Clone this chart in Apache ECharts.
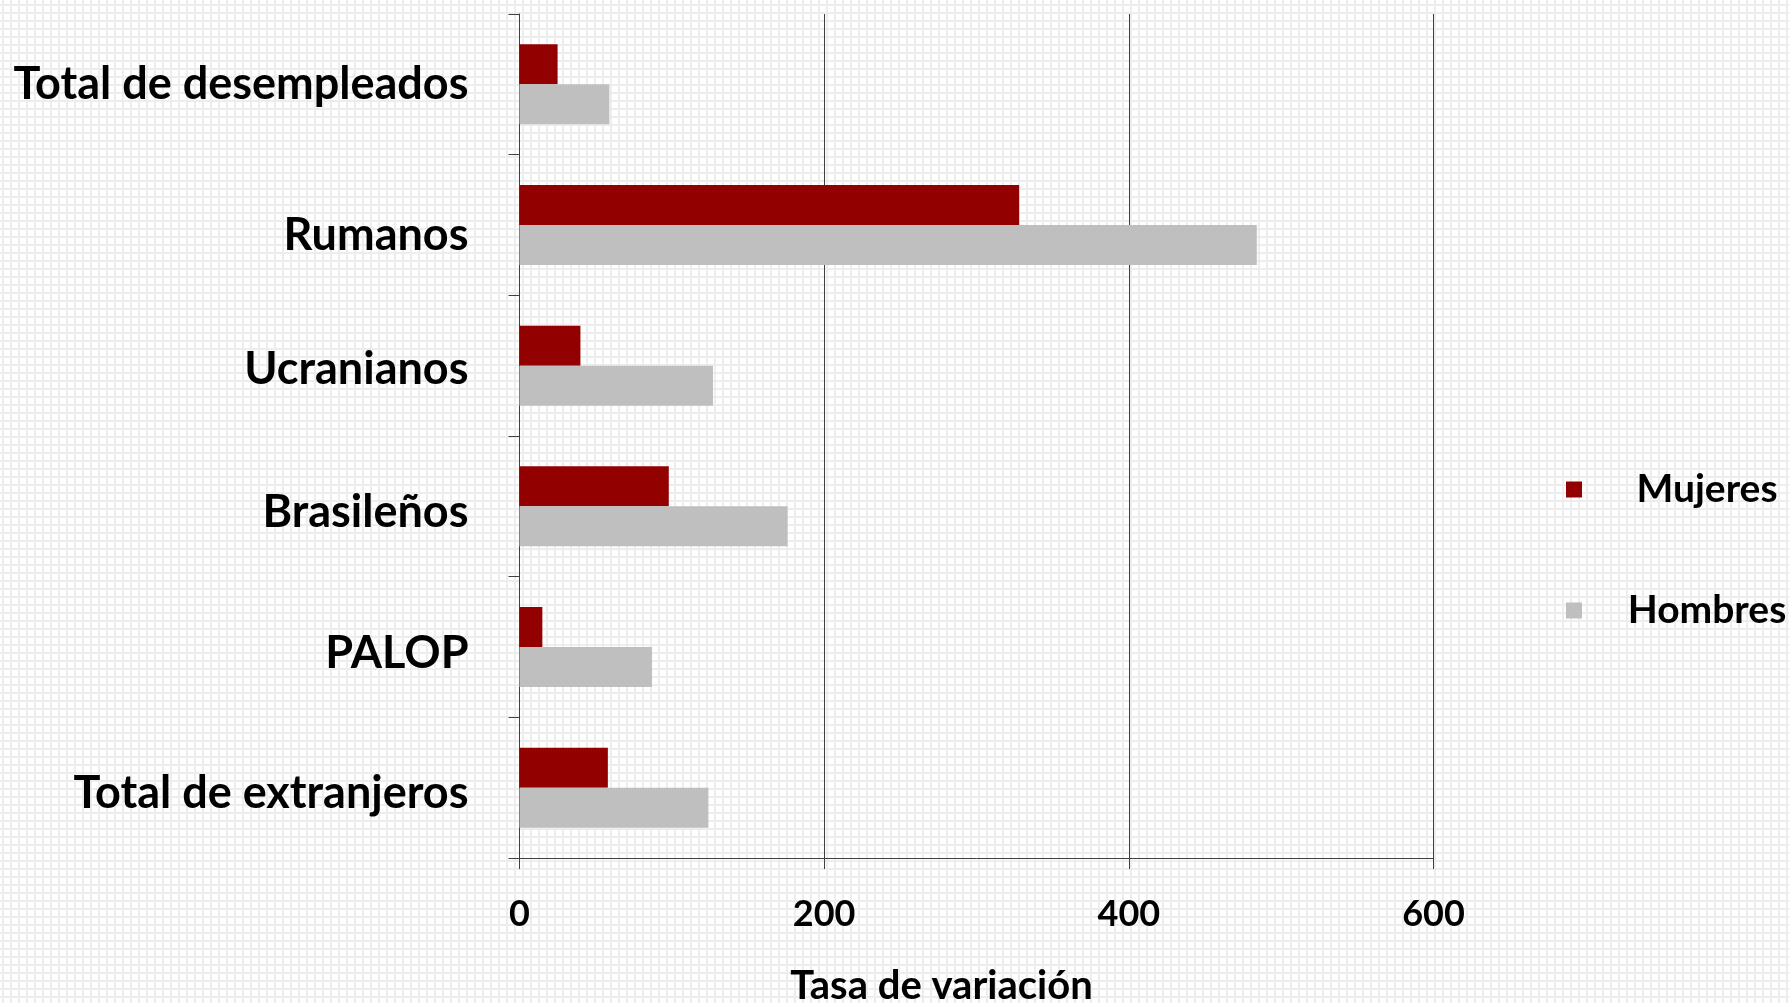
<!DOCTYPE html>
<html>
<head>
<meta charset="utf-8">
<script src="https://cdn.jsdelivr.net/npm/echarts@6/dist/echarts.min.js"></script>
<style>
  html, body {
    margin: 0;
    padding: 0;
    background-color: #ffffff;
    background-image: linear-gradient(#ededed 2px, transparent 2px),
      linear-gradient(90deg, #ededed 2px, transparent 2px);
    background-size: 8px 8px;
    background-position: 2px 4px;
  }
  #main { width: 1789px; height: 1003px; }
</style>
</head>
<body>
<div id="main"></div>
<script>
// categorias (de arriba a abajo)
var categorias = ['Total de desempleados', 'Rumanos', 'Ucranianos', 'Brasileños', 'PALOP', 'Total de extranjeros'];
var mujeres = [25, 328, 40, 98, 15, 58];
var hombres = [59, 484, 127, 176, 87, 124];
var ticksX = [0, 200, 400, 600];

var fuente = 'Lato';
var chart = echarts.init(document.getElementById('main'));

// pequeño ajuste vertical de cada etiqueta (px), como en el original
var ajusteEtiqueta = [0, 10, 4, 6, 6, 6];
var richEtiquetas = {};
ajusteEtiqueta.forEach(function (d, i) {
  richEtiquetas['r' + i] = {
    fontSize: 45,
    fontWeight: 'bold',
    color: '#000',
    fontFamily: fuente,
    padding: d >= 0 ? [2 * d, 0, 0, 0] : [0, 0, -2 * d, 0]
  };
});

var option = {
  backgroundColor: 'transparent',
  animation: false,
  textStyle: { fontFamily: fuente },
  grid: {
    left: 519.5,
    right: 355.5,
    top: 14,
    bottom: 145,
    containLabel: false,
    outerBoundsMode: 'none'
  },
  legend: {
    orient: 'vertical',
    left: 1561,
    top: 465,
    itemWidth: 16,
    itemHeight: 16,
    itemGap: 82,
    icon: 'rect',
    data: ['Mujeres', 'Hombres'],
    formatter: '{a|{name}}',
    textStyle: {
      rich: {
        a: {
          width: 240,
          align: 'center',
          fontSize: 39,
          lineHeight: 40,
          fontWeight: 'bold',
          color: '#000',
          fontFamily: fuente
        }
      }
    }
  },
  xAxis: {
    type: 'value',
    min: ticksX[0],
    max: ticksX[ticksX.length - 1],
    interval: 200,
    name: 'Tasa de variación',
    nameLocation: 'middle',
    nameGap: 108,
    nameTextStyle: {
      fontSize: 40,
      fontWeight: 'bold',
      color: '#000',
      fontFamily: fuente,
      padding: [0, 70, 0, 0]
    },
    axisLine: { show: true, lineStyle: { color: '#404040', width: 1 } },
    axisTick: { show: true, length: 11, lineStyle: { color: '#404040' } },
    axisLabel: {
      fontSize: 36,
      fontWeight: 'bold',
      color: '#000',
      margin: 38,
      fontFamily: fuente
    },
    splitLine: { show: true, lineStyle: { color: '#404040', width: 1 } }
  },
  yAxis: {
    type: 'category',
    data: categorias,
    inverse: true,
    axisLine: { show: true, lineStyle: { color: '#404040', width: 1 } },
    axisTick: { show: true, length: 11, lineStyle: { color: '#404040' } },
    axisLabel: {
      margin: 51,
      formatter: function (value, index) {
        return '{r' + index + '|' + value + '}';
      },
      rich: richEtiquetas
    }
  },
  series: [{
    name: 'Mujeres',
    type: 'bar',
    data: mujeres,
    barWidth: 40,
    barGap: '0%',
    itemStyle: { color: '#920000' }
  }, {
    name: 'Hombres',
    type: 'bar',
    data: hombres,
    barWidth: 40,
    barGap: '0%',
    itemStyle: { color: '#bfbfbf' }
  }]
};

chart.setOption(option);
</script>
</body>
</html>
